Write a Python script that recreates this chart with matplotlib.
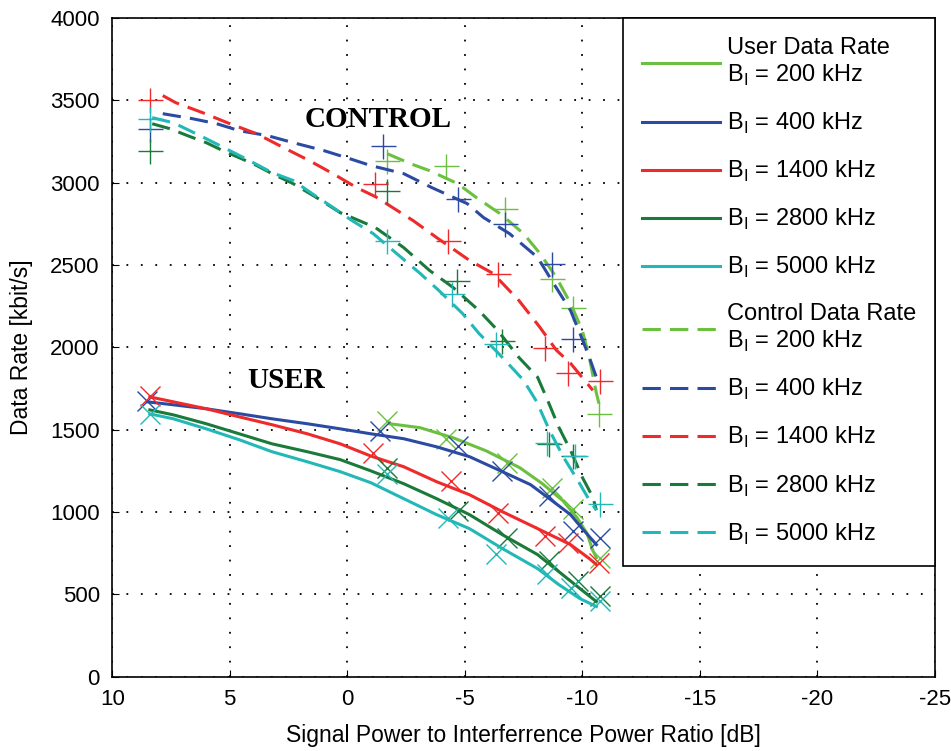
""" Data rate versus signal to interference power ratio, user and control channels.
"""
import matplotlib
matplotlib.use('Agg')
import matplotlib.pyplot as plt

# ======================================================================================================================
bandwidths = ['200', '400', '1400', '2800', '5000']
colors = ['#6cc040', '#2b4ba3', '#ee2a2a', '#1a7a3a', '#22b8b8']

# analytical curves (x in dB, y in kbit/s)
user_x = {
    '200':  [-1.8, -3.1, -4.5, -5.9, -7.34, -8.3, -9.17, -9.77, -10.2, -10.45, -10.6],
    '400':  [8.5, 7.4, 6.0, 4.6, 3.2, 1.7, 0.3, -1.0, -2.4, -3.8, -5.2, -6.6, -7.8, -8.6, -9.5, -10.0, -10.6],
    '1400': [8.4, 7.4, 6.0, 4.6, 3.2, 1.7, 0.3, -1.0, -2.4, -3.8, -5.2, -6.6, -8.1, -9.5, -10.3, -10.6],
    '2800': [8.4, 7.4, 6.0, 4.6, 3.2, 1.7, 0.3, -1.0, -2.4, -3.8, -5.2, -6.6, -8.1, -9.0, -9.9, -10.6],
    '5000': [8.4, 7.4, 6.0, 4.6, 3.2, 1.7, 0.3, -1.0, -2.4, -3.8, -5.2, -6.6, -8.1, -9.0, -9.9, -10.6],
}
user_y = {
    '200':  [1536, 1512, 1451, 1372, 1269, 1172, 1069, 967, 870, 766, 723],
    '400':  [1669, 1651, 1627, 1597, 1566, 1536, 1505, 1475, 1445, 1396, 1336, 1245, 1166, 1081, 984, 899, 802],
    '1400': [1699, 1669, 1627, 1578, 1530, 1475, 1414, 1340, 1275, 1184, 1105, 1002, 899, 802, 717, 681],
    '2800': [1620, 1590, 1536, 1475, 1414, 1366, 1318, 1250, 1172, 1081, 984, 862, 741, 638, 535, 456],
    '5000': [1596, 1566, 1505, 1439, 1366, 1305, 1245, 1178, 1081, 984, 899, 778, 656, 559, 474, 426],
}
ctrl_x = {
    '200':  [-1.7, -2.7, -3.5, -4.7, -5.5, -6.5, -7.5, -8.2, -8.9, -9.5, -10.0, -10.3, -10.6, -10.75],
    '400':  [7.85, 6.6, 5.55, 4.6, 3.4, 2.3, 1.0, -0.1, -1.0, -2.4, -3.6, -5.1, -5.8, -6.9, -8.1, -8.7,
             -9.5, -9.9, -10.3, -10.6],
    '1400': [7.85, 7.3, 6.15, 5.1, 3.85, 2.7, 1.6, 0.6, -0.4, -1.2, -2.8, -3.8, -5.2, -6.2, -7.3, -8.2,
             -8.9, -9.5, -10.2, -10.45],
    '2800': [8.3, 7.55, 6.8, 6.0, 5.3, 4.6, 3.85, 3.2, 2.3, 1.3, 0.3, -0.5, -1.2, -2.4, -3.5, -4.5,
             -5.6, -6.4, -7.3, -8.1, -8.55, -9.0, -9.5, -10.0, -10.45, -10.6],
    '5000': [8.3, 7.4, 6.7, 6.0, 5.0, 4.15, 3.2, 2.3, 1.5, 0.6, -0.2, -1.1, -2.1, -3.1, -3.9, -4.9,
             -5.6, -6.6, -7.5, -8.06, -8.6, -9.2, -9.8, -10.3, -10.6],
}
ctrl_y = {
    '200':  [3176, 3115, 3073, 2994, 2909, 2812, 2691, 2570, 2424, 2267, 2103, 1939, 1721, 1636],
    '400':  [3419, 3389, 3358, 3316, 3286, 3243, 3195, 3146, 3104, 3055, 2970, 2873, 2788, 2691, 2546, 2406,
             2224, 2085, 1939, 1818],
    '1400': [3529, 3486, 3425, 3364, 3297, 3212, 3133, 3054, 2970, 2915, 2770, 2667, 2528, 2449, 2285, 2121,
             1982, 1903, 1782, 1739],
    '2800': [3358, 3328, 3286, 3243, 3195, 3152, 3104, 3055, 2994, 2909, 2818, 2770, 2727, 2606, 2467, 2364,
             2224, 2103, 1939, 1818, 1670, 1515, 1375, 1211, 1090, 1011],
    '5000': [3395, 3364, 3316, 3267, 3195, 3133, 3061, 3013, 2934, 2849, 2770, 2691, 2570, 2449, 2345, 2206,
             2085, 1939, 1800, 1670, 1497, 1333, 1194, 1072, 1011],
}

# simulated points
user_mx = {
    '200':  [-1.7, -4.2, -6.8, -8.7, -9.6, -10.75],
    '400':  [8.5, -1.4, -4.7, -6.6, -8.6, -9.6, -10.75],
    '1400': [8.4, -1.1, -4.4, -6.4, -8.4, -9.4, -10.7],
    '2800': [-1.7, -4.7, -6.8, -8.6, -9.8, -10.75],
    '5000': [8.4, -1.7, -4.3, -6.35, -8.5, -9.5, -10.75],
}
user_my = {
    '200':  [1553, 1444, 1298, 1147, 1019, 722],
    '400':  [1675, 1493, 1402, 1250, 1098, 886, 843],
    '1400': [1705, 1359, 1189, 995, 856, 813, 692],
    '2800': [1268, 1007, 843, 704, 582, 491],
    '5000': [1596, 1232, 965, 746, 625, 540, 461],
}
ctrl_mx = {
    '200':  [-1.7, -4.2, -6.7, -8.7, -9.6, -10.7],
    '400':  [8.4, -1.5, -4.7, -6.7, -8.7, -9.6],
    '1400': [8.4, -1.2, -4.3, -6.4, -8.4, -9.4, -10.75],
    '2800': [8.4, -1.7, -4.66, -6.6, -8.6, -9.6],
    '5000': [8.4, -1.7, -4.45, -6.35, -8.5, -9.7, -10.75],
}
ctrl_my = {
    '200':  [3131, 3101, 2840, 2415, 2239, 1596],
    '400':  [3325, 3222, 2900, 2749, 2506, 2051],
    '1400': [3500, 2991, 2646, 2445, 1996, 1845, 1796],
    '2800': [3192, 2949, 2403, 2039, 1414, 1341],
    '5000': [3386, 2646, 2324, 2021, 1420, 1341, 1050],
}

# ======================================================================================================================
plt.rcParams['font.family'] = ['Liberation Sans', 'DejaVu Sans']
plt.rcParams['axes.unicode_minus'] = False

fig = plt.figure(figsize=(9.51, 7.51), dpi=100)
ax = fig.add_axes([0.118, 0.099, 0.865, 0.877])

handles = []
for b, c in zip(bandwidths, colors):
    h, = ax.plot(user_x[b], user_y[b], '-', color=c, lw=2.2)
    ax.plot(user_mx[b], user_my[b], 'x', color=c, ms=14, mew=1.0)
    handles.append(h)
for b, c in zip(bandwidths, colors):
    h, = ax.plot(ctrl_x[b], ctrl_y[b], '--', color=c, lw=2.2, dashes=(6, 3))
    ax.plot(ctrl_mx[b], ctrl_my[b], '+', color=c, ms=18, mew=1.0)
    handles.append(h)

labels = []
for i, b in enumerate(bandwidths):
    s = 'B$_\\mathregular{I}$ = ' + b + ' kHz'
    labels.append(('User Data Rate\n' + s) if i == 0 else s)
for i, b in enumerate(bandwidths):
    s = 'B$_\\mathregular{I}$ = ' + b + ' kHz'
    labels.append(('Control Data Rate\n' + s) if i == 0 else s)

leg = ax.legend(handles, labels, loc='upper right', bbox_to_anchor=(1.0, 1.0),
                borderaxespad=0., fontsize=17, fancybox=False, framealpha=1,
                edgecolor='black', handlelength=3.3, handletextpad=0.3,
                labelspacing=0.97, borderpad=0.8)
leg.get_frame().set_linewidth(1.2)

ax.text(-1.3, 3386, 'CONTROL', family='Liberation Serif', weight='bold',
        fontsize=21, ha='center', va='center')
ax.text(2.6, 1796, 'USER', family='Liberation Serif', weight='bold',
        fontsize=21, ha='center', va='center')

ax.set_xlim(10, -25)
ax.set_ylim(0, 4000)
ax.set_xticks(range(10, -26, -5))
ax.set_yticks(range(0, 4001, 500))
ax.tick_params(direction='in', labelsize=16, length=5, pad=9)
ax.grid(True, color='black', linestyle=(0, (1, 7)), lw=1.3)
for s in ax.spines.values():
    s.set_linewidth(1.2)
ax.set_xlabel('Signal Power to Interferrence Power Ratio [dB]', fontsize=16.5, labelpad=10)
ax.set_ylabel('Data Rate [kbit/s]', fontsize=16.5, labelpad=12)

fig.savefig('out.png', dpi=100)
